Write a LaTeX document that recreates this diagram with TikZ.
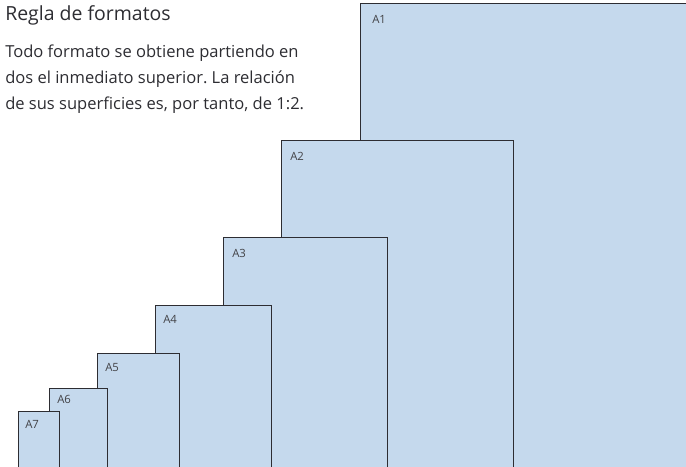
\documentclass[tikz,border=0pt]{standalone}
\usepackage{fontspec}
\setmainfont{Open Sans}
\usepackage{xcolor}
\frenchspacing
\definecolor{sheetblue}{RGB}{197,217,237}
\definecolor{edgegray}{RGB}{45,45,50}
\tikzset{
  sheet/.style={fill=sheetblue},
  edge/.style={draw=edgegray, line width=0.75},
  lbl/.style={anchor=base west, inner sep=0, text=edgegray!90, font=\fontsize{8.5}{9}\selectfont},
}

\begin{document}
\begin{tikzpicture}[x=0.75pt,y=0.75pt,yscale=-1,xscale=1]
    \useasboundingbox (0,0) rectangle (686,467);

    %Shape: Rectangle A1
    \fill [sheet] (360,467) rectangle (686,4) ;
    \draw [edge] (360,467) -- (360,4) -- (686,4) ;
    %Shape: Rectangle A2
    \fill [sheet] (281,467) rectangle (513,141) ;
    \draw [edge] (281,467) -- (281,141) -- (513,141) -- (513,467) ;
    %Shape: Rectangle A3
    \fill [sheet] (223,467) rectangle (387,237) ;
    \draw [edge] (223,467) -- (223,237) -- (387,237) -- (387,467) ;
    %Shape: Rectangle A4
    \fill [sheet] (155,467) rectangle (271,305) ;
    \draw [edge] (155,467) -- (155,305) -- (271,305) -- (271,467) ;
    %Shape: Rectangle A5
    \fill [sheet] (97,467) rectangle (179,353) ;
    \draw [edge] (97,467) -- (97,353) -- (179,353) -- (179,467) ;
    %Shape: Rectangle A6
    \fill [sheet] (49,467) rectangle (107,388) ;
    \draw [edge] (49,467) -- (49,388) -- (107,388) -- (107,467) ;
    %Shape: Rectangle A7
    \fill [sheet] (18,467) rectangle (59,411) ;
    \draw [edge] (18,467) -- (18,411) -- (59,411) -- (59,467) ;

    % labels of the sheets
    \node [lbl] (a1) at (372,24) {A1};
    \node [lbl] (a2) at (290,161) {A2};
    \node [lbl] (a3) at (232,257) {A3};
    \node [lbl] (a4) at (163,323) {A4};
    \node [lbl] (a5) at (105,371) {A5};
    \node [lbl] (a6) at (57,403) {A6};
    \node [lbl] (a7) at (25,428) {A7};

    % title and text (base = last line)
    \node [anchor=base west, inner sep=0, text=edgegray, font=\fontsize{14.6}{17}\selectfont] (title) at (5,21) {Regla de formatos};
    \node [anchor=base west, inner sep=0, text=edgegray, align=left, font=\fontsize{12.4}{19.5}\selectfont] (text) at (5,109) {Todo formato se obtiene partiendo en\\dos el inmediato superior. La relación\\de sus superficies es, por tanto, de 1:2.};

\end{tikzpicture}
\end{document}
